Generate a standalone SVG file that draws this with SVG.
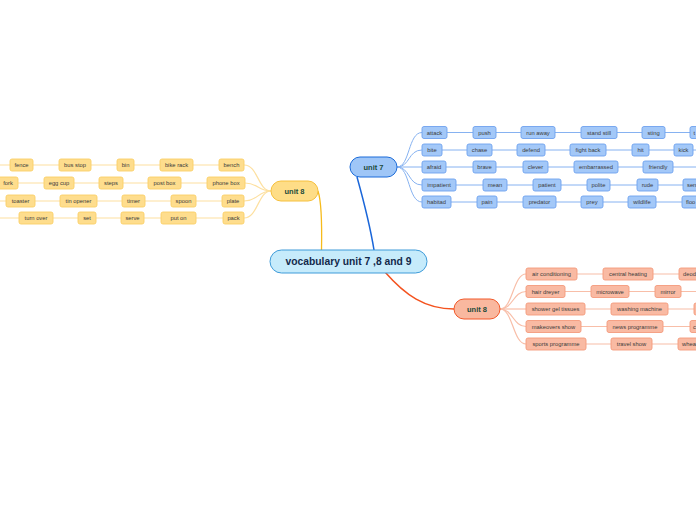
<svg xmlns="http://www.w3.org/2000/svg" width="696" height="520" viewBox="0 0 696 520">
<style>
text{font-family:"Liberation Sans",Arial,sans-serif}
.t{font-size:5.8px;fill:#3a3a3a;text-anchor:middle;dominant-baseline:central}
.ts{font-size:5.8px;fill:#3a3a3a;dominant-baseline:central}
.u{font-size:7.5px;font-weight:bold;fill:#1c4a3a;text-anchor:middle;dominant-baseline:central}
.c{font-size:10.3px;font-weight:bold;fill:#13294b;text-anchor:middle;dominant-baseline:central}
.b{fill:#a3c8f8;stroke:#6ea2ee;stroke-width:0.9}
.y{fill:#fedd8d;stroke:#fbcf66;stroke-width:0.9}
.s{fill:#f9baa3;stroke:#f49a7c;stroke-width:0.9}
.lb{fill:none;stroke:#86b2f1;stroke-width:1}
.ly{fill:none;stroke:#fde0a0;stroke-width:1.2}
.ls{fill:none;stroke:#f8bea8;stroke-width:1.2}
</style>
<rect width="696" height="520" fill="#ffffff"/>
<g id="connectors">
<path d="M374 250 C370 225 362 195 357 177" fill="none" stroke="#1a66d9" stroke-width="1.5"/>
<path d="M321.5 250 C322 225 321 200 318 191" fill="none" stroke="#f6bb1c" stroke-width="1.3"/>
<path d="M385 272 C405 295 425 309 454 309" fill="none" stroke="#f4531f" stroke-width="1.5"/>
<g class="lb">
<path d="M397 167 C410 167 408 132.5 422 132.5"/>
<path d="M397 167 C410 167 408 150 422 150"/>
<path d="M397 167 L422 167"/>
<path d="M397 167 C410 167 408 185 422 185"/>
<path d="M397 167 C410 167 408 202 422 202"/>
<path d="M447 132.5H473M496 132.5H521M555 132.5H581M617 132.5H642M665 132.5H690"/>
<path d="M442 150H467M492 150H517M545 150H570M606 150H632M649 150H674M693 150H696"/>
<path d="M446 167H473M496 167H523M548 167H574M618 167H643M673 167H696"/>
<path d="M456 185H483M507 185H533M561 185H587M610 185H637M658 185H683"/>
<path d="M451 202H477M497 202H523M556 202H581M603 202H628M656 202H682"/>
</g>
<g class="ly">
<path d="M271 191 C258 191 258 165 244 165"/>
<path d="M271 191 C258 191 258 183 245 183"/>
<path d="M271 191 C258 191 258 201 244 201"/>
<path d="M271 191 C258 191 258 218 244 218"/>
<path d="M0 165H10M33 165H59M91 165H117M134 165H160M193 165H219"/>
<path d="M18 183H44M74 183H99M123 183H148M181 183H207"/>
<path d="M0 201H6M35 201H60M97 201H122M145 201H171M196 201H222"/>
<path d="M0 218H19M53 218H78M96 218H121M144 218H161M196 218H223"/>
</g>
<g class="ls">
<path d="M500 309 C513 309 513 274 526 274"/>
<path d="M500 309 C513 309 513 291.5 526 291.5"/>
<path d="M500 309 L526 309"/>
<path d="M500 309 C513 309 513 326.5 526 326.5"/>
<path d="M500 309 C513 309 513 344 526 344"/>
<path d="M577 274H603M653 274H679"/>
<path d="M565 291.5H591M629 291.5H655M681 291.5H696"/>
<path d="M585 309H611M668 309H694"/>
<path d="M581 326.5H607M663 326.5H690"/>
<path d="M586 344H611M652 344H678"/>
</g>
</g>
<g id="central">
<rect x="270" y="250" width="157" height="23" rx="11.5" fill="#c6ebfb" stroke="#3e9bd9" stroke-width="1"/>
<text class="c" x="348.5" y="261.5">vocabulary unit 7 ,8 and 9</text>
</g>
<g id="unit7">
<rect x="350" y="157" width="47" height="20" rx="10" fill="#9fc6f7" stroke="#1b6bd9" stroke-width="1"/>
<text class="u" x="373.5" y="167">unit 7</text>
</g>
<g id="unit8-left">
<rect x="271" y="181" width="47" height="20" rx="10" fill="#fedd87" stroke="#f6c03c" stroke-width="1"/>
<text class="u" x="294.5" y="191">unit 8</text>
</g>
<g id="unit8-right">
<rect x="454" y="299" width="46" height="20" rx="10" fill="#f9b89f" stroke="#f2592a" stroke-width="1"/>
<text class="u" x="477" y="309">unit 8</text>
</g>
<g id="unit7-words">
<g id="n-attack"><rect class="b" x="422" y="126.5" width="25" height="12" rx="2"/><text class="t" x="434.5" y="132.5">attack</text></g>
<g id="n-push"><rect class="b" x="473" y="126.5" width="23" height="12" rx="2"/><text class="t" x="484.5" y="132.5">push</text></g>
<g id="n-runaway"><rect class="b" x="521" y="126.5" width="34" height="12" rx="2"/><text class="t" x="538" y="132.5">run away</text></g>
<g id="n-standstill"><rect class="b" x="581" y="126.5" width="36" height="12" rx="2"/><text class="t" x="599" y="132.5">stand still</text></g>
<g id="n-sting"><rect class="b" x="642" y="126.5" width="23" height="12" rx="2"/><text class="t" x="653.5" y="132.5">sting</text></g>
<g id="n-t"><rect class="b" x="690" y="126.5" width="30" height="12" rx="2"/><text class="ts" x="693.5" y="132.5">t</text></g>
<g id="n-bite"><rect class="b" x="422" y="144" width="20" height="12" rx="2"/><text class="t" x="432" y="150">bite</text></g>
<g id="n-chase"><rect class="b" x="467" y="144" width="25" height="12" rx="2"/><text class="t" x="479.5" y="150">chase</text></g>
<g id="n-defend"><rect class="b" x="517" y="144" width="28" height="12" rx="2"/><text class="t" x="531" y="150">defend</text></g>
<g id="n-fightback"><rect class="b" x="570" y="144" width="36" height="12" rx="2"/><text class="t" x="588" y="150">fight back</text></g>
<g id="n-hit"><rect class="b" x="632" y="144" width="17" height="12" rx="2"/><text class="t" x="640.5" y="150">hit</text></g>
<g id="n-kick"><rect class="b" x="674" y="144" width="19" height="12" rx="2"/><text class="t" x="683.5" y="150">kick</text></g>
<g id="n-afraid"><rect class="b" x="422" y="161" width="24" height="12" rx="2"/><text class="t" x="434" y="167">afraid</text></g>
<g id="n-brave"><rect class="b" x="473" y="161" width="23" height="12" rx="2"/><text class="t" x="484.5" y="167">brave</text></g>
<g id="n-clever"><rect class="b" x="523" y="161" width="25" height="12" rx="2"/><text class="t" x="535.5" y="167">clever</text></g>
<g id="n-embarrassed"><rect class="b" x="574" y="161" width="44" height="12" rx="2"/><text class="t" x="596" y="167">embarrassed</text></g>
<g id="n-friendly"><rect class="b" x="643" y="161" width="30" height="12" rx="2"/><text class="t" x="658" y="167">friendly</text></g>
<g id="n-impatient"><rect class="b" x="422" y="179" width="34" height="12" rx="2"/><text class="t" x="439" y="185">impatient</text></g>
<g id="n-mean"><rect class="b" x="483" y="179" width="24" height="12" rx="2"/><text class="t" x="495" y="185">mean</text></g>
<g id="n-patient"><rect class="b" x="533" y="179" width="28" height="12" rx="2"/><text class="t" x="547" y="185">patient</text></g>
<g id="n-polite"><rect class="b" x="587" y="179" width="23" height="12" rx="2"/><text class="t" x="598.5" y="185">polite</text></g>
<g id="n-rude"><rect class="b" x="637" y="179" width="21" height="12" rx="2"/><text class="t" x="647.5" y="185">rude</text></g>
<g id="n-sen"><rect class="b" x="683" y="179" width="34" height="12" rx="2"/><text class="ts" x="687" y="185">sen</text></g>
<g id="n-habitad"><rect class="b" x="422" y="196" width="29" height="12" rx="2"/><text class="t" x="436.5" y="202">habitad</text></g>
<g id="n-pain"><rect class="b" x="477" y="196" width="20" height="12" rx="2"/><text class="t" x="487" y="202">pain</text></g>
<g id="n-predator"><rect class="b" x="523" y="196" width="33" height="12" rx="2"/><text class="t" x="539.5" y="202">predator</text></g>
<g id="n-prey"><rect class="b" x="581" y="196" width="22" height="12" rx="2"/><text class="t" x="592" y="202">prey</text></g>
<g id="n-wildlife"><rect class="b" x="628" y="196" width="28" height="12" rx="2"/><text class="t" x="642" y="202">wildlife</text></g>
<g id="n-floo"><rect class="b" x="682" y="196" width="30" height="12" rx="2"/><text class="ts" x="686" y="202">floo</text></g>
</g>
<g id="unit8-left-words">
<g id="n-fence"><rect class="y" x="10" y="159" width="23" height="12" rx="2"/><text class="t" x="21.5" y="165">fence</text></g>
<g id="n-busstop"><rect class="y" x="59" y="159" width="32" height="12" rx="2"/><text class="t" x="75" y="165">bus stop</text></g>
<g id="n-bin"><rect class="y" x="117" y="159" width="17" height="12" rx="2"/><text class="t" x="125.5" y="165">bin</text></g>
<g id="n-bikerack"><rect class="y" x="160" y="159" width="33" height="12" rx="2"/><text class="t" x="176.5" y="165">bike rack</text></g>
<g id="n-bench"><rect class="y" x="219" y="159" width="25" height="12" rx="2"/><text class="t" x="231.5" y="165">bench</text></g>
<g id="n-fork"><rect class="y" x="-3" y="177" width="21" height="12" rx="2"/><text class="t" x="8" y="183">fork</text></g>
<g id="n-eggcup"><rect class="y" x="44" y="177" width="30" height="12" rx="2"/><text class="t" x="59" y="183">egg cup</text></g>
<g id="n-steps"><rect class="y" x="99" y="177" width="24" height="12" rx="2"/><text class="t" x="111" y="183">steps</text></g>
<g id="n-postbox"><rect class="y" x="148" y="177" width="33" height="12" rx="2"/><text class="t" x="164.5" y="183">post box</text></g>
<g id="n-phonebox"><rect class="y" x="207" y="177" width="38" height="12" rx="2"/><text class="t" x="226" y="183">phone box</text></g>
<g id="n-toaster"><rect class="y" x="6" y="195" width="29" height="12" rx="2"/><text class="t" x="20.5" y="201">toaster</text></g>
<g id="n-tinopener"><rect class="y" x="60" y="195" width="37" height="12" rx="2"/><text class="t" x="78.5" y="201">tin opener</text></g>
<g id="n-timer"><rect class="y" x="122" y="195" width="23" height="12" rx="2"/><text class="t" x="133.5" y="201">timer</text></g>
<g id="n-spoon"><rect class="y" x="171" y="195" width="25" height="12" rx="2"/><text class="t" x="183.5" y="201">spoon</text></g>
<g id="n-plate"><rect class="y" x="222" y="195" width="22" height="12" rx="2"/><text class="t" x="233" y="201">plate</text></g>
<g id="n-turnover"><rect class="y" x="19" y="212" width="34" height="12" rx="2"/><text class="t" x="36" y="218">turn over</text></g>
<g id="n-set"><rect class="y" x="78" y="212" width="18" height="12" rx="2"/><text class="t" x="87" y="218">set</text></g>
<g id="n-serve"><rect class="y" x="121" y="212" width="23" height="12" rx="2"/><text class="t" x="132.5" y="218">serve</text></g>
<g id="n-puton"><rect class="y" x="161" y="212" width="35" height="12" rx="2"/><text class="t" x="178.5" y="218">put on</text></g>
<g id="n-pack"><rect class="y" x="223" y="212" width="21" height="12" rx="2"/><text class="t" x="233.5" y="218">pack</text></g>
</g>
<g id="unit8-right-words">
<g id="n-aircon"><rect class="s" x="526" y="268" width="51" height="12" rx="2"/><text class="t" x="551.5" y="274">air conditioning</text></g>
<g id="n-centralheating"><rect class="s" x="603" y="268" width="50" height="12" rx="2"/><text class="t" x="628" y="274">central heating</text></g>
<g id="n-deod"><rect class="s" x="679" y="268" width="40" height="12" rx="2"/><text class="ts" x="683" y="274">deod</text></g>
<g id="n-hairdreyer"><rect class="s" x="526" y="285.5" width="39" height="12" rx="2"/><text class="t" x="545.5" y="291.5">hair dreyer</text></g>
<g id="n-microwave"><rect class="s" x="591" y="285.5" width="38" height="12" rx="2"/><text class="t" x="610" y="291.5">microwave</text></g>
<g id="n-mirror"><rect class="s" x="655" y="285.5" width="26" height="12" rx="2"/><text class="t" x="668" y="291.5">mirror</text></g>
<g id="n-showergel"><rect class="s" x="526" y="303" width="59" height="12" rx="2"/><text class="t" x="555.5" y="309">shower gel tissues</text></g>
<g id="n-washing"><rect class="s" x="611" y="303" width="57" height="12" rx="2"/><text class="t" x="639.5" y="309">washing machine</text></g>
<g id="n-r3next"><rect class="s" x="694" y="303" width="30" height="12" rx="2"/></g>
<g id="n-news"><rect class="s" x="607" y="320.5" width="56" height="12" rx="2"/><text class="t" x="635" y="326.5">news programme</text></g>
<g id="n-makeovers"><rect class="s" x="526" y="320.5" width="55" height="12" rx="2"/><text class="t" x="553.5" y="326.5">makeovers show</text></g>
<g id="n-c"><rect class="s" x="690" y="320.5" width="34" height="12" rx="2"/><text class="ts" x="693" y="326.5">c</text></g>
<g id="n-sports"><rect class="s" x="526" y="338" width="60" height="12" rx="2"/><text class="t" x="556" y="344">sports programme</text></g>
<g id="n-travel"><rect class="s" x="611" y="338" width="41" height="12" rx="2"/><text class="t" x="631.5" y="344">travel show</text></g>
<g id="n-whea"><rect class="s" x="678" y="338" width="50" height="12" rx="2"/><text class="ts" x="682" y="344">whea</text></g>
</g>
</svg>
